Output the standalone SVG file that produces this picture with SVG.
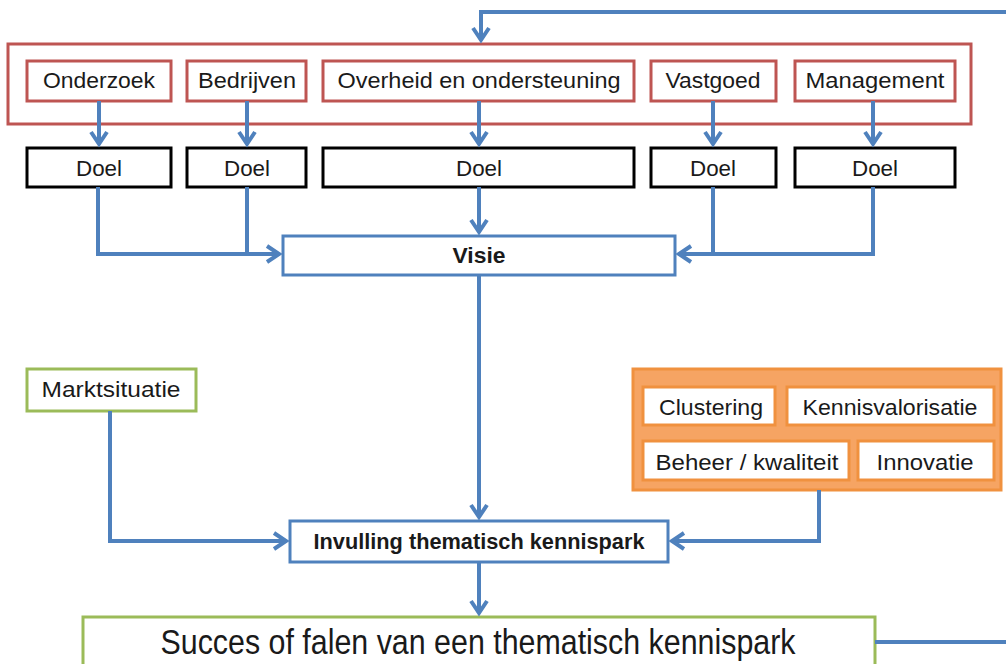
<svg xmlns="http://www.w3.org/2000/svg" width="1006" height="664" viewBox="0 0 1006 664">
  <style>
    text { font-family: "Liberation Sans", Arial, sans-serif; fill: #1a1a1a; text-anchor: middle; }
    .lbl { font-size: 22px; }
    .bold { font-weight: bold; }
    .red { fill: #fff; stroke: #BE5552; stroke-width: 3; }
    .blk { fill: #fff; stroke: #000; stroke-width: 3; }
    .blu { fill: #fff; stroke: #4F81BD; stroke-width: 3; }
    .grn { fill: #fff; stroke: #9BBB59; stroke-width: 3; }
    .org { fill: #fff; stroke: #F0913F; stroke-width: 3; }
    .conn { fill: none; stroke: #4F81BD; stroke-width: 4; stroke-linejoin: miter; }
  </style>
  <defs>
    <marker id="arrow" markerUnits="userSpaceOnUse" markerWidth="18" markerHeight="20" viewBox="0 0 18 20" refX="14" refY="10" orient="auto">
      <path d="M2,2 L14,10 L2,18" fill="none" stroke="#4F81BD" stroke-width="4"/>
    </marker>
  </defs>

  <rect width="1006" height="664" fill="#fff"/>

  <!-- stakeholder container -->
  <g id="stakeholders">
    <rect class="red" x="8" y="44" width="963" height="80"/>
  </g>
  <g id="onderzoek">
    <rect class="red" x="27" y="61" width="144" height="40"/>
    <text class="lbl" x="99" y="88" lengthAdjust="spacingAndGlyphs" textLength="112">Onderzoek</text>
  </g>
  <g id="bedrijven">
    <rect class="red" x="187" y="61" width="119" height="40"/>
    <text class="lbl" x="247" y="88" lengthAdjust="spacingAndGlyphs" textLength="98">Bedrijven</text>
  </g>
  <g id="overheid">
    <rect class="red" x="323" y="61" width="311" height="40"/>
    <text class="lbl" x="479" y="88" lengthAdjust="spacingAndGlyphs" textLength="283">Overheid en ondersteuning</text>
  </g>
  <g id="vastgoed">
    <rect class="red" x="651" y="61" width="125" height="40"/>
    <text class="lbl" x="713" y="88" lengthAdjust="spacingAndGlyphs" textLength="95">Vastgoed</text>
  </g>
  <g id="management">
    <rect class="red" x="795" y="61" width="160" height="40"/>
    <text class="lbl" x="875" y="88" lengthAdjust="spacingAndGlyphs" textLength="139">Management</text>
  </g>

  <!-- goals -->
  <g id="doel1">
    <rect class="blk" x="27" y="148" width="144" height="39"/>
    <text class="lbl" x="99" y="176" lengthAdjust="spacingAndGlyphs" textLength="46">Doel</text>
  </g>
  <g id="doel2">
    <rect class="blk" x="187" y="148" width="119" height="39"/>
    <text class="lbl" x="247" y="176" lengthAdjust="spacingAndGlyphs" textLength="46">Doel</text>
  </g>
  <g id="doel3">
    <rect class="blk" x="323" y="148" width="311" height="39"/>
    <text class="lbl" x="479" y="176" lengthAdjust="spacingAndGlyphs" textLength="46">Doel</text>
  </g>
  <g id="doel4">
    <rect class="blk" x="651" y="148" width="125" height="39"/>
    <text class="lbl" x="713" y="176" lengthAdjust="spacingAndGlyphs" textLength="46">Doel</text>
  </g>
  <g id="doel5">
    <rect class="blk" x="795" y="148" width="160" height="39"/>
    <text class="lbl" x="875" y="176" lengthAdjust="spacingAndGlyphs" textLength="46">Doel</text>
  </g>

  <g id="visie">
    <rect class="blu" x="283" y="236" width="392" height="39"/>
    <text class="lbl bold" x="479" y="263" font-size="20" lengthAdjust="spacingAndGlyphs" textLength="53">Visie</text>
  </g>

  <g id="marktsituatie">
    <rect class="grn" x="27" y="369" width="169" height="42"/>
    <text class="lbl" x="111" y="397" lengthAdjust="spacingAndGlyphs" textLength="139">Marktsituatie</text>
  </g>

  <!-- park themes -->
  <g id="themas">
    <rect x="633" y="369" width="368" height="121" fill="#F6A463" stroke="#F0913F" stroke-width="3"/>
  </g>
  <g id="clustering">
    <rect class="org" x="643" y="387" width="132" height="38"/>
    <text class="lbl" x="711" y="415" lengthAdjust="spacingAndGlyphs" textLength="104">Clustering</text>
  </g>
  <g id="kennisvalorisatie">
    <rect class="org" x="787" y="387" width="207" height="38"/>
    <text class="lbl" x="890" y="415" lengthAdjust="spacingAndGlyphs" textLength="175">Kennisvalorisatie</text>
  </g>
  <g id="beheer">
    <rect class="org" x="643" y="441" width="206" height="39"/>
    <text class="lbl" x="747" y="470" lengthAdjust="spacingAndGlyphs" textLength="183">Beheer / kwaliteit</text>
  </g>
  <g id="innovatie">
    <rect class="org" x="858" y="441" width="136" height="39"/>
    <text class="lbl" x="925" y="470" lengthAdjust="spacingAndGlyphs" textLength="97">Innovatie</text>
  </g>

  <g id="invulling">
    <rect class="blu" x="290" y="521" width="378" height="41"/>
    <text class="lbl bold" x="479" y="549" lengthAdjust="spacingAndGlyphs" textLength="331">Invulling thematisch kennispark</text>
  </g>

  <g id="succes">
    <rect class="grn" x="83" y="617" width="792" height="60"/>
    <text x="478" y="654" font-size="35" lengthAdjust="spacingAndGlyphs" textLength="635">Succes of falen van een thematisch kennispark</text>
  </g>

  <!-- connectors -->
  <g id="connectors">
    <path class="conn" d="M1006,12 H481 V40" marker-end="url(#arrow)"/>
    <path class="conn" d="M875,642 H1006"/>

    <path class="conn" d="M99,101 V144" marker-end="url(#arrow)"/>
    <path class="conn" d="M247,101 V144" marker-end="url(#arrow)"/>
    <path class="conn" d="M479,101 V144" marker-end="url(#arrow)"/>
    <path class="conn" d="M713,101 V144" marker-end="url(#arrow)"/>
    <path class="conn" d="M873,101 V144" marker-end="url(#arrow)"/>

    <path class="conn" d="M98,187 V254 H279" marker-end="url(#arrow)"/>
    <path class="conn" d="M247,187 V254"/>
    <path class="conn" d="M479,187 V232" marker-end="url(#arrow)"/>
    <path class="conn" d="M873,187 V254 H679" marker-end="url(#arrow)"/>
    <path class="conn" d="M713,187 V254"/>

    <path class="conn" d="M479,275 V517" marker-end="url(#arrow)"/>
    <path class="conn" d="M110,411 V541 H286" marker-end="url(#arrow)"/>
    <path class="conn" d="M819,490 V541 H672" marker-end="url(#arrow)"/>
    <path class="conn" d="M479,562 V613" marker-end="url(#arrow)"/>
  </g>
</svg>
